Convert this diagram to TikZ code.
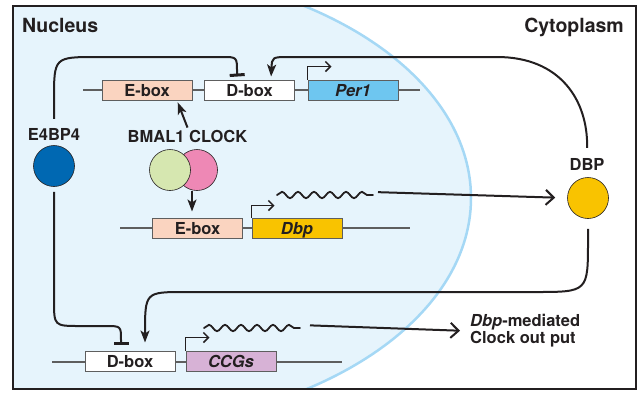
\documentclass[tikz,border=0pt]{standalone}
\usepackage{fontspec}
\setmainfont{TeX Gyre Heros}
\usepackage{xcolor}
\definecolor{Ink}{HTML}{231F20}
\definecolor{DnaGray}{HTML}{5E5E5E}
\definecolor{NucFill}{HTML}{E6F4FC}
\definecolor{NucLine}{HTML}{A5D8F5}
\definecolor{Peach}{HTML}{FAD4C0}
\definecolor{SkyBlue}{HTML}{6EC6F0}
\definecolor{Gold}{HTML}{F9C300}
\definecolor{Lilac}{HTML}{D7B2D6}
\definecolor{DeepBlue}{HTML}{0068B2}
\definecolor{LimeLight}{HTML}{D6E7B0}
\definecolor{Rose}{HTML}{EE88B5}
\usepackage{tikz}
\usetikzlibrary{arrows.meta, decorations.pathmorphing}
\tikzset{
  genebox/.style={
    rectangle, draw=DnaGray, line width=1pt,
    minimum width=90pt, minimum height=20pt, inner sep=0pt,
    text height=13.5pt, text depth=0pt, text=Ink,
    font=\bfseries\fontsize{16.5}{18}\selectfont
  },
  prot/.style={circle, draw=Ink, line width=0.6pt, minimum size=41pt, inner sep=0pt},
  tag/.style={font=\bfseries\fontsize{16.5}{15}\selectfont, text=Ink, inner sep=2pt},
  areatitle/.style={font=\bfseries\fontsize{19.5}{22}\selectfont, text=Ink, inner sep=0pt},
  dna/.style={line width=1.5pt, draw=DnaGray},
  mrna/.style={line width=1.8pt, draw=Ink, line cap=round, decorate,
    decoration={snake, amplitude=3.2pt, segment length=16pt}},
  tss/.style={line width=1.5pt, draw=Ink, -{Straight Barb[length=5pt, width=10pt]}},
  activate/.style={line width=2pt, draw=Ink, -{Stealth[length=12pt, width=9pt, inset=3pt]}},
  repress/.style={line width=2pt, draw=Ink, -{Bar[width=15pt, line width=3pt]}},
  export/.style={line width=2pt, draw=Ink, -{Straight Barb[length=8pt, width=15pt]}},
  nucleus/.style={fill=NucFill, draw=NucLine, line width=2.5pt},
  cellframe/.style={draw=Ink, line width=2.5pt},
}

\begin{document}
\begin{tikzpicture}[x=1pt, y=-1pt]
\useasboundingbox (0,0) rectangle (639,392);

% Nucleus and cell
\begin{scope}
  \clip (13,6) rectangle (636,389);
  \draw[nucleus] (100,198) ellipse [x radius=371, y radius=230];
\end{scope}
\draw[cellframe] (13,6) rectangle (636,389);

\node[areatitle, anchor=base west] at (22,32) (nucleus) {Nucleus};
\node[areatitle, anchor=base east] at (624,32) (cytoplasm) {Cytoplasm};

% Per1 gene
\coordinate (dna1l) at (83,90);
\coordinate (dna1r) at (420,90);
\draw[dna] (dna1l) -- (dna1r);
\node[genebox, fill=Peach] at (147,90) (ebox1) {E-box};
\node[genebox, fill=white] at (249.5,90) (dbox1) {D-box};
\node[genebox, fill=SkyBlue] at (353,90) (per1) {\textit{Per1}};
\draw[tss] (per1.north west) -- ++(0,-13) -- ++(24,0);

% Dbp gene
\coordinate (dna2l) at (120,228);
\coordinate (dna2r) at (410,228);
\draw[dna] (dna2l) -- (dna2r);
\node[genebox, fill=Peach] at (197.5,228) (ebox2) {E-box};
\node[genebox, fill=Gold] at (297,228) (dbp) {\textit{Dbp}};
\draw[tss] (dbp.north west) -- ++(0,-12) -- ++(23,0);
\coordinate (mrna1a) at (277,195);
\coordinate (mrna1b) at (373,195);
\draw[mrna] (mrna1a) -- (mrna1b);

% CCGs
\coordinate (dna3l) at (52,362);
\coordinate (dna3r) at (342,362);
\draw[dna] (dna3l) -- (dna3r);
\node[genebox, fill=white] at (130,361) (dbox2) {D-box};
\node[genebox, fill=Lilac] at (231,361) (ccgs) {\textit{CCGs}};
\draw[tss] (ccgs.north west) -- ++(0,-13) -- ++(24,0);
\coordinate (mrna2a) at (204,328);
\coordinate (mrna2b) at (300,328);
\draw[mrna] (mrna2a) -- (mrna2b);

% Proteins
\node[prot, fill=DeepBlue] at (54,166) (e4bp4) {};
\node[tag, anchor=base] at (54,140) (e4bp4lbl) {E4BP4};
\node[prot, fill=Rose] at (197,170) (clock) {};
\node[prot, fill=LimeLight] at (170,170) (bmal1) {};
\node[tag, anchor=base] at (187.5,142) (bmallbl) {BMAL1 CLOCK};
\node[prot, fill=Gold] at (588,198) (dbpprot) {};
\node[tag, anchor=base] at (587,170) (dbplbl) {DBP};
\node[tag, anchor=west, align=left] at (468,331) (output) {\textit{Dbp}-mediated\\Clock out put};

% Regulation
\draw[repress, shorten <=7pt, shorten >=3pt] (e4bp4lbl.north) -- (54,100)
  .. controls (54,57) .. (97,57) -- (222,57)
  .. controls (237,57) .. (237,72) -- ([xshift=-12]dbox1.north);
\draw[activate, shorten <=8pt, shorten >=3pt] (dbplbl.north)
  .. controls (588,100) and (560,57) .. (497,57) -- (290,57)
  .. controls (272,57) .. ([xshift=21.5]dbox1.north);
\draw[repress, shorten <=5pt, shorten >=6pt] (e4bp4.south) -- (54,300)
  .. controls (54,326) .. (80,326) -- (105,326)
  .. controls (121,326) .. (121,340) -- ([xshift=-9]dbox2.north);
\draw[activate, shorten <=10pt, shorten >=8pt] (dbpprot.south) -- (588,240)
  .. controls (588,292) .. (535,292) -- (185,292)
  .. controls (145,292) .. ([xshift=15]dbox2.north);
\draw[activate, shorten >=2pt] (bmallbl.north) -- ([xshift=30]ebox1.south);
\draw[activate, shorten >=6pt] ([xshift=-5]clock.south) -- ([xshift=-5.5]ebox2.north);

% Transcripts
\draw[export, shorten <=5pt, shorten >=12pt] ([yshift=3]mrna1b) -- (dbpprot.west);
\draw[export, shorten <=10pt, shorten >=8pt] ([yshift=3]mrna2b) -- (output.west);

\end{tikzpicture}
\end{document}
